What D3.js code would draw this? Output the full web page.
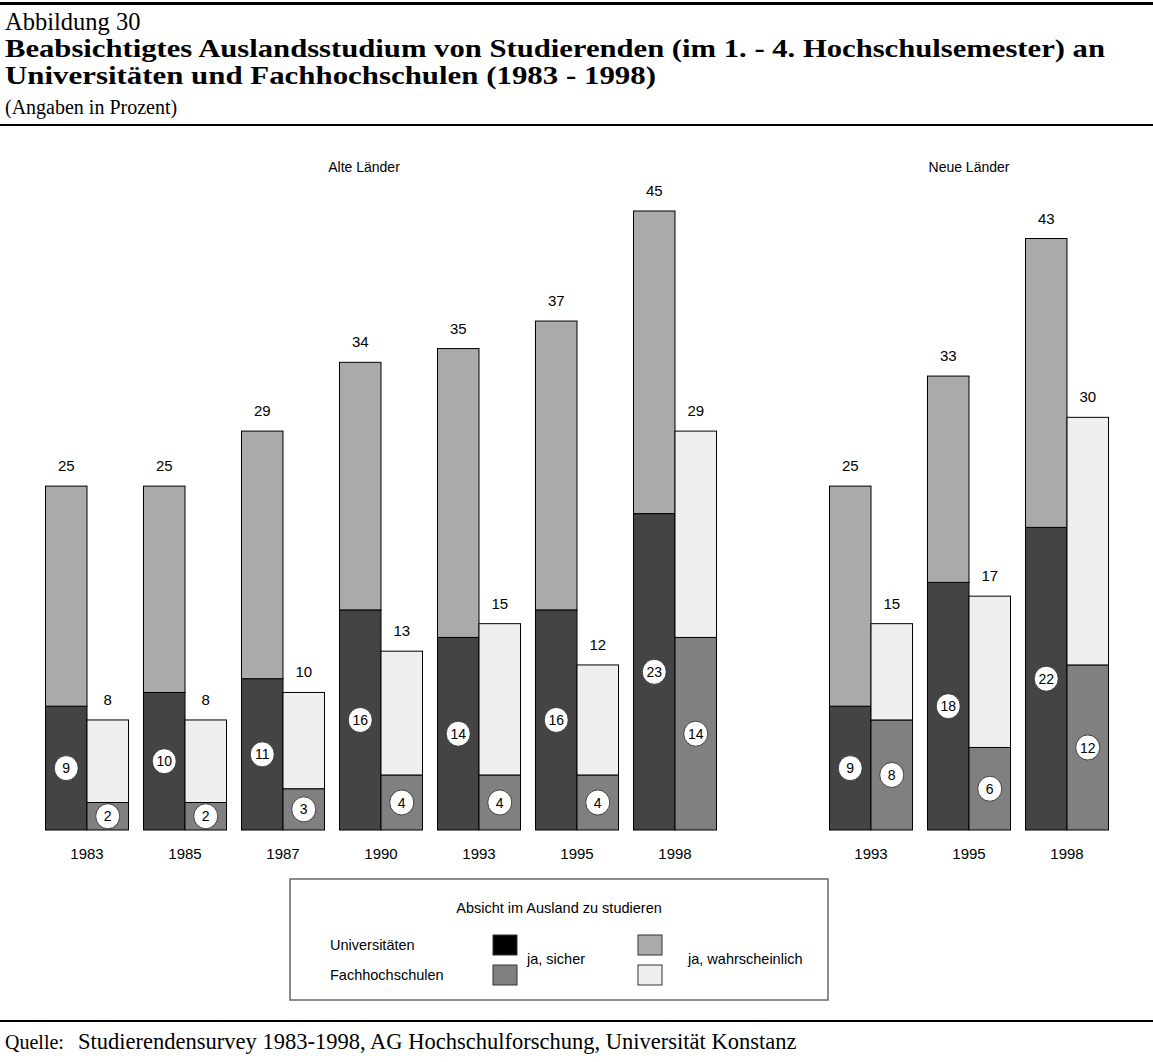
<!DOCTYPE html>
<html><head><meta charset="utf-8">
<script src="https://cdn.jsdelivr.net/npm/d3@7"></script>
<style>body{margin:0;background:#fff}svg{display:block}</style>
</head><body>
<script>
// ---- data ----
const slots = ["A1983","A1985","A1987","A1990","A1993","A1995","A1998","gap","N1993","N1995","N1998"];
const yearLabels = ["1983","1985","1987","1990","1993","1995","1998","","1993","1995","1998"];
const uniSicher = [9,10,11,16,14,16,23,null,9,18,22];
const uniTotal  = [25,25,29,34,35,37,45,null,25,33,43];
const fhSicher  = [2,2,3,4,4,4,14,null,8,6,12];
const fhTotal   = [8,8,10,13,15,12,29,null,15,17,30];
const groupLabels = ["Alte Länder","Neue Länder"];
const legendTitle = "Absicht im Ausland zu studieren";

const W=1153,H=1062;
const svg=d3.select("body").append("svg").attr("width",W).attr("height",H);
const serif="'Liberation Serif','Times New Roman',serif";
const sans="'Liberation Sans',Arial,sans-serif";

// rules
svg.append("line").attr("x1",0).attr("x2",W).attr("y1",3.5).attr("y2",3.5).attr("stroke","#000").attr("stroke-width",3);
svg.append("line").attr("x1",0).attr("x2",W).attr("y1",125).attr("y2",125).attr("stroke","#000").attr("stroke-width",2);
svg.append("line").attr("x1",0).attr("x2",W).attr("y1",1021).attr("y2",1021).attr("stroke","#000").attr("stroke-width",2);

function fit(sel,target){const n=sel.node();const l=n.getComputedTextLength();const fs=parseFloat(sel.attr("font-size"));sel.attr("font-size",fs*target/l);return fs*target/l;}

const tfs=24.5;
svg.append("text").attr("x",5).attr("y",30).attr("font-family",serif).attr("font-size",tfs).text("Abbildung 30");
svg.append("text").attr("x",5).attr("y",57.2).attr("font-family",serif).attr("font-weight","bold").attr("font-size",tfs)
  .attr("textLength",1100).attr("lengthAdjust","spacingAndGlyphs")
  .text("Beabsichtigtes Auslandsstudium von Studierenden (im 1. - 4. Hochschulsemester) an");
svg.append("text").attr("x",5).attr("y",84.4).attr("font-family",serif).attr("font-weight","bold").attr("font-size",tfs)
  .attr("textLength",651).attr("lengthAdjust","spacingAndGlyphs")
  .text("Universitäten und Fachhochschulen (1983 - 1998)");
svg.append("text").attr("x",5).attr("y",114).attr("font-family",serif).attr("font-size",20).text("(Angaben in Prozent)");

svg.append("text").attr("x",5).attr("y",1049).attr("font-family",serif).attr("font-size",20).text("Quelle:");
const ft=svg.append("text").attr("x",78).attr("y",1049).attr("font-family",serif).attr("font-size",20).text("Studierendensurvey 1983-1998, AG Hochschulforschung, Universität Konstanz");
fit(ft,719);

// scales
const x=d3.scaleBand().domain(slots).range([38,38+98*11]).paddingInner(0.153).paddingOuter(0.0765);
const xi=d3.scaleBand().domain(["uni","fh"]).range([0,x.bandwidth()]);
const y=d3.scaleLinear().domain([0,45]).range([830,211]);

const col={us:"#444444",uw:"#aaaaaa",fs:"#808080",fw:"#efefef"};

const data=slots.map((s,i)=>({s,i,year:yearLabels[i],us:uniSicher[i],ut:uniTotal[i],fs:fhSicher[i],ft:fhTotal[i]})).filter(d=>d.us!=null);

const g=svg.append("g").attr("font-family",sans);
const grp=g.selectAll("g.grp").data(data).join("g").attr("transform",d=>`translate(${x(d.s)},0)`);

function seg(sel,key,lo,hi,fill){
  sel.append("rect").attr("x",xi(key)).attr("width",xi.bandwidth())
   .attr("y",d=>y(hi(d))).attr("height",d=>y(lo(d))-y(hi(d)))
   .attr("fill",fill).attr("stroke","#000").attr("stroke-width",1);
}
seg(grp,"uni",d=>0,d=>d.us,col.us);
seg(grp,"uni",d=>d.us,d=>d.ut,col.uw);
seg(grp,"fh",d=>0,d=>d.fs,col.fs);
seg(grp,"fh",d=>d.fs,d=>d.ft,col.fw);

// total labels
grp.append("text").attr("x",xi("uni")+xi.bandwidth()/2).attr("y",d=>y(d.ut)-15).attr("text-anchor","middle").attr("font-size",15).text(d=>d.ut);
grp.append("text").attr("x",xi("fh")+xi.bandwidth()/2).attr("y",d=>y(d.ft)-15).attr("text-anchor","middle").attr("font-size",15).text(d=>d.ft);

// circled labels
function circ(key,v){
  const c=grp.append("g").attr("transform",d=>`translate(${xi(key)+xi.bandwidth()/2},${(y(0)+y(v(d)))/2})`);
  c.append("ellipse").attr("rx",12).attr("ry",12.5).attr("fill","#fff").attr("stroke","#222").attr("stroke-width",0.8);
  c.append("text").attr("text-anchor","middle").attr("dy","0.36em").attr("font-size",14).text(d=>v(d));
}
circ("uni",d=>d.us);
circ("fh",d=>d.fs);

// year labels
grp.append("text").attr("x",x.bandwidth()/2).attr("y",859).attr("text-anchor","middle").attr("font-size",15).text(d=>d.year);

// group labels
g.append("text").attr("x",364).attr("y",172).attr("text-anchor","middle").attr("font-size",14).text(groupLabels[0]);
g.append("text").attr("x",(x("N1993")+x("N1998")+x.bandwidth())/2).attr("y",172).attr("text-anchor","middle").attr("font-size",14).text(groupLabels[1]);

// legend
const L=g.append("g");
L.append("rect").attr("x",290).attr("y",879).attr("width",538).attr("height",121).attr("fill","#fff").attr("stroke","#666").attr("stroke-width",1.5);
L.append("text").attr("x",559).attr("y",913).attr("text-anchor","middle").attr("font-size",14.5).text(legendTitle);
L.append("text").attr("x",330).attr("y",950).attr("font-size",14.5).text("Universitäten");
L.append("text").attr("x",330).attr("y",980).attr("font-size",14.5).text("Fachhochschulen");
const sw=[[493,935,"#000"],[493,965,col.fs],[638,935,col.uw],[638,965,col.fw]];
L.selectAll("rect.sw").data(sw).join("rect").attr("class","sw").attr("x",d=>d[0]).attr("y",d=>d[1]).attr("width",24).attr("height",20).attr("fill",d=>d[2]).attr("stroke","#333").attr("stroke-width",1);
L.append("text").attr("x",527).attr("y",964).attr("font-size",14.5).text("ja, sicher");
L.append("text").attr("x",688).attr("y",964).attr("font-size",14.5).text("ja, wahrscheinlich");
</script>
</body></html>
